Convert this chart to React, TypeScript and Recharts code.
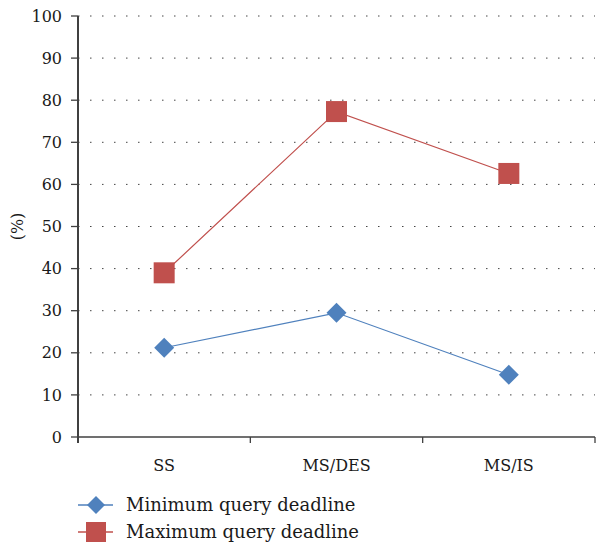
import { LineChart, Line, XAxis, YAxis, CartesianGrid } from "recharts";

const categories = ["SS", "MS/DES", "MS/IS"];
const minDeadline = [21.2, 29.5, 14.8];
const maxDeadline = [39, 77.3, 62.6];
const yTicks = [0, 10, 20, 30, 40, 50, 60, 70, 80, 90, 100];

const BLUE = "#4f81bd";
const RED = "#c0504d";
const AXIS = "#404040";
const FONT = "'DejaVu Serif', serif";

const WIDTH = 596;
const HEIGHT = 544;
const margin = { top: 16, right: 1, bottom: 57, left: 0 };
const Y_WIDTH = 78;

const data = categories.map((name, i) => ({
    name,
    min: minDeadline[i],
    max: maxDeadline[i],
}));

// band width of each category, used for padding and the boundary tick marks
const bandWidth = (WIDTH - margin.left - margin.right - Y_WIDTH) / categories.length;

function Diamond({ cx, cy }: any) {
    if (cx == null || cy == null) return null;
    const r = 10;
    return (
        <path
            d={`M${cx},${cy - r} L${cx + r},${cy} L${cx},${cy + r} L${cx - r},${cy} Z`}
            fill={BLUE}
        />
    );
}

function Square({ cx, cy }: any) {
    if (cx == null || cy == null) return null;
    const s = 21;
    return <rect x={cx - s / 2} y={cy - s / 2} width={s} height={s} fill={RED} />;
}

function XTick({ x, y, payload, index }: any) {
    const right = x + bandWidth / 2;
    const left = x - bandWidth / 2;
    return (
        <g>
            {index === 0 && <line x1={left} x2={left} y1={y} y2={y + 6} stroke={AXIS} strokeWidth={2} />}
            <line x1={right} x2={right} y1={y} y2={y + 6} stroke={AXIS} strokeWidth={1.3} />
            <text
                x={x}
                y={y + 34}
                textAnchor="middle"
                fill="#1a1a1a"
                fontSize={16}
                fontFamily={FONT}
            >
                {payload.value}
            </text>
        </g>
    );
}

function YLabel({ viewBox }: any) {
    const cx = 17;
    const cy = viewBox.y + viewBox.height / 2;
    return (
        <text
            x={cx}
            y={cy}
            transform={`rotate(-90 ${cx} ${cy})`}
            textAnchor="middle"
            dominantBaseline="central"
            fill="#1a1a1a"
            fontSize={16}
            fontFamily={FONT}
        >
            (%)
        </text>
    );
}

function LegendRow({ color, label, marker }: { color: string; label: string; marker: "diamond" | "square" }) {
    return (
        <div style={{ display: "flex", alignItems: "center", height: 27 }}>
            <svg width={44} height={24} style={{ marginRight: 4 }}>
                <line x1={0} x2={35} y1={12} y2={12} stroke={color} strokeWidth={1.3} />
                {marker === "diamond" ? (
                    <path d="M18,3 L27,12 L18,21 L9,12 Z" fill={color} />
                ) : (
                    <rect x={8} y={2} width={20} height={20} fill={color} />
                )}
            </svg>
            <span style={{ fontFamily: FONT, fontSize: 18, color: "#1a1a1a" }}>{label}</span>
        </div>
    );
}

export default function App() {
    return (
        <div style={{ position: "absolute", left: 0, top: 0, width: WIDTH, height: HEIGHT, background: "#fff" }}>
            <LineChart width={WIDTH} height={HEIGHT} data={data} margin={margin}>
                <CartesianGrid
                    horizontal
                    vertical={false}
                    stroke="#444"
                    strokeDasharray="1.5 10.5"
                    horizontalValues={yTicks.slice(1)}
                />
                <XAxis
                    dataKey="name"
                    tick={<XTick />}
                    tickLine={false}
                    tickSize={0}
                    tickMargin={0}
                    height={50}
                    padding={{ left: bandWidth / 2, right: bandWidth / 2 }}
                    axisLine={{ stroke: AXIS, strokeWidth: 1.3 }}
                    interval={0}
                />
                <YAxis
                    type="number"
                    domain={[0, 100]}
                    ticks={yTicks}
                    width={Y_WIDTH}
                    tickSize={7}
                    tickMargin={9}
                    tickLine={{ stroke: AXIS, strokeWidth: 1.3 }}
                    axisLine={{ stroke: AXIS, strokeWidth: 2 }}
                    tick={{ fill: "#1a1a1a", fontSize: 16, fontFamily: FONT }}
                    label={<YLabel />}
                    interval={0}
                />
                <Line
                    dataKey="min"
                    stroke={BLUE}
                    strokeWidth={1.2}
                    dot={<Diamond />}
                    activeDot={false}
                    isAnimationActive={false}
                />
                <Line
                    dataKey="max"
                    stroke={RED}
                    strokeWidth={1.2}
                    dot={<Square />}
                    activeDot={false}
                    isAnimationActive={false}
                />
            </LineChart>
            <div style={{ position: "absolute", left: 78, top: 491 }}>
                <LegendRow color={BLUE} label="Minimum query deadline" marker="diamond" />
                <LegendRow color={RED} label="Maximum query deadline" marker="square" />
            </div>
        </div>
    );
}
